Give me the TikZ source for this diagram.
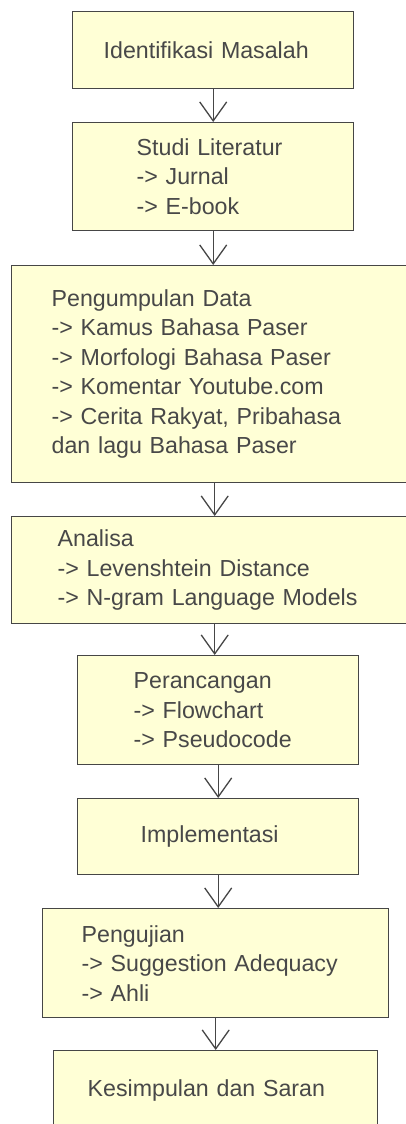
\documentclass[tikz,border=0pt]{standalone}
\usepackage{fontspec}
\setmainfont{Liberation Sans}
\usetikzlibrary{arrows.meta}
\definecolor{isian}{RGB}{255,255,214}
\definecolor{garis}{RGB}{70,70,70}
\definecolor{tulisan}{RGB}{72,72,72}

\begin{document}
\begin{tikzpicture}[x=1pt, y=-1pt,
    kotak/.style={draw=garis, line width=1.4pt, fill=isian, anchor=north west, align=left,
        inner ysep=0pt, text=tulisan, font=\fontsize{23.2}{29.5}\selectfont},
    panah/.style={draw=garis, line width=1.3pt,
        -{Straight Barb[length=19pt, width=27pt, line width=1.3pt]}}]
    \useasboundingbox (0,0) rectangle (406,1124);
    % tahapan penelitian
    \node[kotak, minimum height=77pt, text width=219pt, inner xsep=31pt] (idm) at (72,11) {Identifikasi Masalah};
    \node[kotak, minimum height=108pt, text width=153pt, inner xsep=64pt] (stl) at (72,122) {Studi Literatur\\-> Jurnal\\-> E-book};
    \node[kotak, minimum height=217pt, text width=326pt, inner xsep=40pt] (pgd) at (11,265) {Pengumpulan Data\\-> Kamus Bahasa Paser\\-> Morfologi Bahasa Paser\\-> Komentar Youtube.com\\-> Cerita Rakyat, Pribahasa\\dan lagu Bahasa Paser};
    \node[kotak, minimum height=107pt, text width=314pt, inner xsep=46pt] (anl) at (11,516) {Analisa\\-> Levenshtein Distance\\-> N-gram Language Models};
    \node[kotak, minimum height=109pt, text width=169pt, inner xsep=56pt] (prc) at (77,655) {Perancangan\\-> Flowchart\\-> Pseudocode};
    \node[kotak, minimum height=76pt, text width=155pt, inner xsep=63pt] (imp) at (77,798) {Implementasi};
    \node[kotak, minimum height=109pt, text width=268pt, inner xsep=39pt] (pgj) at (42,908) {Pengujian\\-> Suggestion Adequacy\\-> Ahli};
    \node[kotak, minimum height=80pt, text width=256pt, inner xsep=34pt] (ksp) at (53,1050) {Kesimpulan dan Saran};
    % panah
    \draw[panah] (idm.south) -- (idm.south |- stl.north);
    \draw[panah] (stl.south) -- (stl.south |- pgd.north);
    \draw[panah] (pgd.south) -- (pgd.south |- anl.north);
    \draw[panah] (anl.south) -- (anl.south |- prc.north);
    \draw[panah] (prc.south) -- (prc.south |- imp.north);
    \draw[panah] (imp.south) -- (imp.south |- pgj.north);
    \draw[panah] (pgj.south) -- (pgj.south |- ksp.north);
\end{tikzpicture}
\end{document}
